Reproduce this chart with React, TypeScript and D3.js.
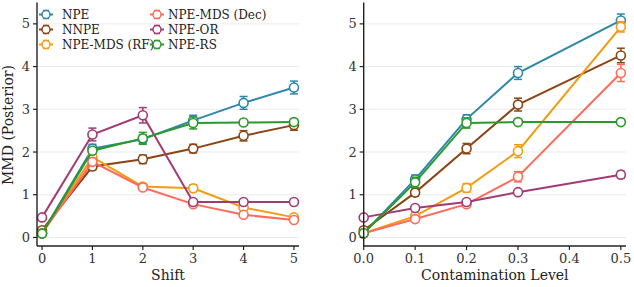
import React from 'react';
import * as d3 from 'd3';

const shifts = [0, 1, 2, 3, 4, 5];
const levels = [0, 0.1, 0.2, 0.3, 0.5];
const methods = ['NPE', 'NNPE', 'NPE-MDS (RF)', 'NPE-MDS (Dec)', 'NPE-OR', 'NPE-RS'];
const colors = ['#2e86ab', '#8b4513', '#f39c12', '#ff6b5b', '#a23b72', '#2a9a2a'];

// MMD vs shift
const shiftMean = [
  [0.1, 2.08, 2.3, 2.74, 3.15, 3.51],
  [0.17, 1.66, 1.83, 2.08, 2.38, 2.63],
  [0.1, 1.88, 1.19, 1.15, 0.7, 0.47],
  [0.1, 1.77, 1.17, 0.78, 0.53, 0.41],
  [0.47, 2.41, 2.86, 0.83, 0.83, 0.83],
  [0.09, 2.03, 2.32, 2.68, 2.69, 2.7],
];
const shiftErr = [
  [0.03, 0.1, 0.1, 0.12, 0.15, 0.15],
  [0.03, 0.08, 0.1, 0.1, 0.12, 0.12],
  [0.02, 0.1, 0.06, 0.08, 0.06, 0.04],
  [0.02, 0.08, 0.05, 0.04, 0.04, 0.04],
  [0.03, 0.15, 0.18, 0.03, 0.03, 0.03],
  [0.02, 0.06, 0.14, 0.14, 0.05, 0.05],
];

// MMD vs contamination level
const levelMean = [
  [0.1, 1.36, 2.77, 3.85, 5.08],
  [0.17, 1.05, 2.08, 3.11, 4.26],
  [0.1, 0.5, 1.16, 2.02, 4.93],
  [0.1, 0.43, 0.78, 1.42, 3.85],
  [0.47, 0.69, 0.83, 1.06, 1.47],
  [0.1, 1.29, 2.68, 2.7, 2.7],
];
const levelErr = [
  [0.03, 0.1, 0.1, 0.15, 0.15],
  [0.03, 0.08, 0.12, 0.15, 0.17],
  [0.02, 0.05, 0.1, 0.15, 0.12],
  [0.02, 0.04, 0.04, 0.12, 0.2],
  [0.03, 0.04, 0.03, 0.05, 0.08],
  [0.02, 0.12, 0.12, 0.03, 0.03],
];

const yTicks = [0, 1, 2, 3, 4, 5];
const font = 'DejaVu Serif';

function Panel({ xs, means, errs, x, y, xTicks, fmt, label }: any) {
  const [x0, x1] = x.range();
  const [yb, yt] = y.range();
  const line = d3.line<number>().x((_, i) => x(xs[i])).y(d => y(d));
  return (
    <g>
      {yTicks.map(t => (
        <line key={'g' + t} x1={x0} x2={x1} y1={y(t)} y2={y(t)} stroke="#ebebeb" strokeWidth={1} />
      ))}
      {means.map((m: number[], s: number) => (
        <g key={s}>
          <path d={line(m) || ''} fill="none" stroke={colors[s]} strokeWidth={2} />
          {m.map((v, i) => {
            const e = errs[s][i];
            const cx = x(xs[i]);
            return (
              <g key={i} stroke={colors[s]}>
                <line x1={cx} x2={cx} y1={y(v - e)} y2={y(v + e)} strokeWidth={1.5} />
                <line x1={cx - 4} x2={cx + 4} y1={y(v - e)} y2={y(v - e)} strokeWidth={1.5} />
                <line x1={cx - 4} x2={cx + 4} y1={y(v + e)} y2={y(v + e)} strokeWidth={1.5} />
                <circle cx={cx} cy={y(v)} r={4.5} fill="white" strokeWidth={1.6} />
              </g>
            );
          })}
        </g>
      ))}
      <line x1={x0} x2={x0} y1={yb} y2={yt} stroke="#222" strokeWidth={1.4} />
      <line x1={x0} x2={x1} y1={yb} y2={yb} stroke="#222" strokeWidth={1.4} />
      {yTicks.map(t => (
        <g key={'y' + t}>
          <line x1={x0 - 4} x2={x0} y1={y(t)} y2={y(t)} stroke="#222" strokeWidth={1.2} />
          <text x={x0 - 7} y={y(t)} dy="0.35em" textAnchor="end" fontSize={13} fill="#333">{t}</text>
        </g>
      ))}
      {xTicks.map((t: number) => (
        <g key={'x' + t}>
          <line x1={x(t)} x2={x(t)} y1={yb} y2={yb + 4} stroke="#222" strokeWidth={1.2} />
          <text x={x(t)} y={yb + 17} textAnchor="middle" fontSize={13} fill="#333">{fmt(t)}</text>
        </g>
      ))}
      <text x={(x0 + x1) / 2} y={yb + 34} textAnchor="middle" fontSize={14} fill="#222">{label}</text>
    </g>
  );
}

export default function App() {
  const yScale = d3.scaleLinear().domain([-0.2, 5.5]).range([246, 2.5]);
  const xLeft = d3.scaleLinear().domain([-0.1, 5.1]).range([37, 299]);
  const xRight = d3.scaleLinear().domain([0, 0.51]).range([363.7, 626]);

  return (
    <svg width={634} height={287} style={{ position: 'absolute', left: 0, top: 0 }} fontFamily={font}>
      <rect width={634} height={287} fill="white" />
      <Panel xs={shifts} means={shiftMean} errs={shiftErr} x={xLeft} y={yScale}
        xTicks={shifts} fmt={(t: number) => String(t)} label="Shift" />
      <Panel xs={levels} means={levelMean} errs={levelErr} x={xRight} y={yScale}
        xTicks={[0, 0.1, 0.2, 0.3, 0.4, 0.5]} fmt={d3.format('.1f')} label="Contamination Level" />
      <text transform="translate(13,125) rotate(-90)" textAnchor="middle" fontSize={14} fill="#222">MMD (Posterior)</text>
      {methods.map((m, i) => {
        const col = Math.floor(i / 3);
        const lx = col === 0 ? 39 : 150;
        const ly = 14.5 + (i % 3) * 15;
        return (
          <g key={m} stroke={colors[i]}>
            <line x1={lx} x2={lx + 14} y1={ly} y2={ly} strokeWidth={2} />
            <line x1={lx + 7} x2={lx + 7} y1={ly - 4} y2={ly + 4} strokeWidth={1.5} />
            <line x1={lx + 4} x2={lx + 10} y1={ly - 4} y2={ly - 4} strokeWidth={1.5} />
            <line x1={lx + 4} x2={lx + 10} y1={ly + 4} y2={ly + 4} strokeWidth={1.5} />
            <circle cx={lx + 7} cy={ly} r={4} fill="white" strokeWidth={1.5} />
            <text x={col === 0 ? 62 : 168} y={ly} dy="0.35em" fontSize={12} fill="#222" stroke="none">{m}</text>
          </g>
        );
      })}
    </svg>
  );
}
